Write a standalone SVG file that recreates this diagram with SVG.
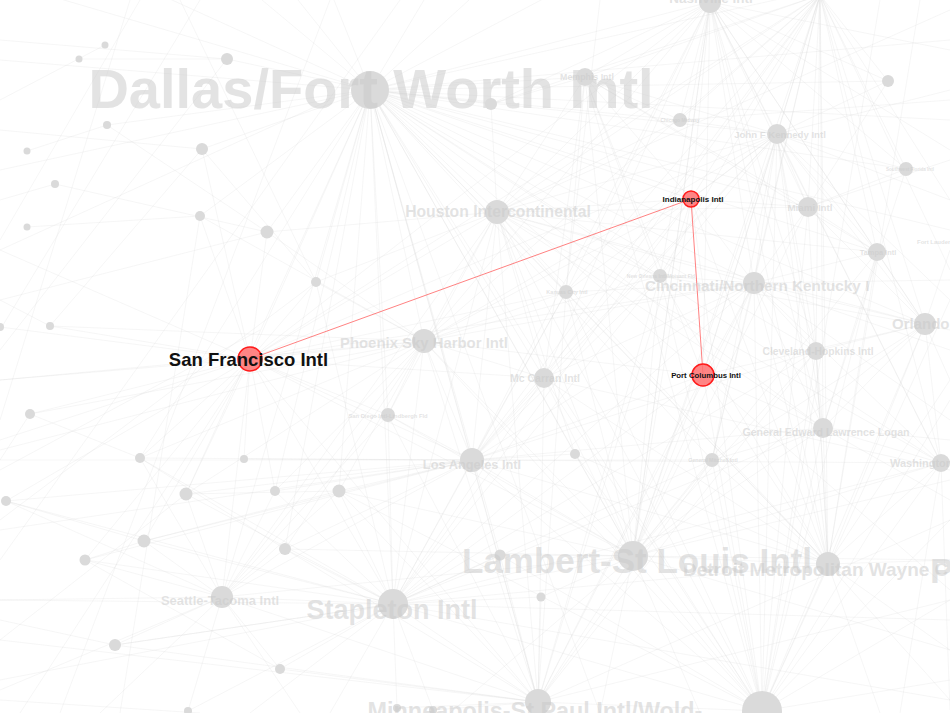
<svg xmlns="http://www.w3.org/2000/svg" width="950" height="713" viewBox="0 0 950 713">
<style>
.e{fill:none;stroke:#d6d6d6;stroke-opacity:.38;stroke-width:.6}
.r{fill:none;stroke:#ff4d4d;stroke-opacity:.7;stroke-width:1}
.n{fill:#dadada}
.l{font-family:"Liberation Sans",Arial,sans-serif;font-weight:bold;fill:#c8c8c8;fill-opacity:.5;text-anchor:middle}
.h{fill:#ff7070;fill-opacity:.85;stroke:#ff1a1a;stroke-width:1.5}
.ht{font-family:"Liberation Sans",Arial,sans-serif;font-weight:bold;fill:#111;text-anchor:middle}
</style>
<rect width="950" height="713" fill="#fff"/>
<g id="connectors">
<path class="e" d="M370 90L227 59M370 90L202 149M370 90L200 216M370 90L267 232M370 90L316 282M370 90L107 125M370 90L491 104M370 90L585 77M370 90L497 212M370 90L424 341M370 90L472 460M370 90L544 378M370 90L388 415M370 90L250 359M370 90L222 597M370 90L393 604M370 90L633 556M370 90L566 292M370 90L660 276M370 90L754 283M370 90L691 199M370 90L777 134M370 90L808 207M370 90L877 252M370 90L925 324M370 90L823 428M370 90L941 463M370 90L816 351M370 90L828 564M370 90L538 702M370 90L703 375M370 90L712 460M370 90L680 120M370 90L710 2M370 90L186 494M370 90L339 491M370 90L285 549M370 90L275 491M370 90L140 458M370 90L575 454M370 90L500 555M370 90L906 169M370 90L888 81M370 90L330 -10M370 90L290 -10M370 90L430 -10M370 90L480 -10M370 90L560 -10M370 90L250 -10M370 90L950 40M370 90L950 120M370 90L950 230M370 90L30 -10M370 90L150 -10M370 90L820 -10M370 90L762 713M370 90L600 713M370 90L0 60M370 90L0 170"/>
<path class="e" d="M393 604L222 597M393 604L250 359M393 604L424 341M393 604L472 460M393 604L544 378M393 604L388 415M393 604L633 556M393 604L538 702M393 604L828 564M393 604L762 711M393 604L339 491M393 604L285 549M393 604L280 669M393 604L397 708M393 604L433 710M393 604L500 555M393 604L541 597M393 604L144 541M393 604L186 494M393 604L115 645M393 604L85 560M393 604L754 283M393 604L691 199M393 604L703 375M393 604L712 460M393 604L497 212M393 604L566 292M393 604L660 276M393 604L816 351M393 604L823 428M393 604L941 463M393 604L316 282M393 604L0 600M393 604L0 680M393 604L250 713M393 604L330 713M393 604L950 620M393 604L950 700M393 604L140 458M393 604L6 501M393 604L275 491M393 604L188 711"/>
<path class="e" d="M633 556L500 555M633 556L541 597M633 556L538 702M633 556L762 711M633 556L828 564M633 556L703 375M633 556L712 460M633 556L575 454M633 556L544 378M633 556L472 460M633 556L566 292M633 556L660 276M633 556L754 283M633 556L691 199M633 556L497 212M633 556L816 351M633 556L823 428M633 556L941 463M633 556L925 324M633 556L877 252M633 556L808 207M633 556L777 134M633 556L710 2M633 556L585 77M633 556L424 341M633 556L388 415M633 556L250 359M633 556L339 491M633 556L285 549M633 556L222 597M633 556L950 560M633 556L950 650M633 556L700 713M633 556L450 713M633 556L600 713M633 556L950 480"/>
<path class="e" d="M762 711L828 564M762 711L712 460M762 711L703 375M762 711L823 428M762 711L941 463M762 711L754 283M762 711L691 199M762 711L816 351M762 711L925 324M762 711L877 252M762 711L808 207M762 711L575 454M762 711L544 378M762 711L472 460M762 711L497 212M762 711L566 292M762 711L660 276M762 711L339 491M762 711L950 600M762 711L950 520M762 711L950 400M762 711L950 680M762 711L880 0M762 711L950 300M762 711L538 702M762 711L500 555M762 711L424 341M762 711L777 134M762 711L585 77"/>
<path class="e" d="M828 564L703 375M828 564L712 460M828 564L823 428M828 564L941 463M828 564L754 283M828 564L691 199M828 564L816 351M828 564L925 324M828 564L877 252M828 564L808 207M828 564L777 134M828 564L566 292M828 564L544 378M828 564L497 212M828 564L472 460M828 564L660 276M828 564L575 454M828 564L950 560M828 564L950 650M828 564L950 700M828 564L880 713M828 564L920 0M828 564L950 380"/>
<path class="e" d="M538 702L500 555M538 702L541 597M538 702L472 460M538 702L424 341M538 702L544 378M538 702L566 292M538 702L660 276M538 702L691 199M538 702L703 375M538 702L712 460M538 702L754 283M538 702L816 351M538 702L250 359M538 702L388 415M538 702L222 597M538 702L339 491M538 702L285 549M538 702L497 212M538 702L397 708M538 702L433 710M538 702L280 669M538 702L115 645M538 702L0 640M538 702L950 520M538 702L950 600"/>
<path class="e" d="M710 2L585 77M710 2L680 120M710 2L777 134M710 2L808 207M710 2L877 252M710 2L925 324M710 2L754 283M710 2L691 199M710 2L660 276M710 2L566 292M710 2L497 212M710 2L816 351M710 2L823 428M710 2L941 463M710 2L491 104M710 2L888 81M710 2L906 169M710 2L703 375M710 2L544 378M710 2L472 460M710 2L424 341M710 2L250 359M710 2L633 556M710 2L828 564M710 2L950 50M710 2L950 150"/>
<path class="e" d="M820 -5L777 134M820 -5L808 207M820 -5L877 252M820 -5L691 199M820 -5L754 283M820 -5L660 276M820 -5L566 292M820 -5L497 212M820 -5L703 375M820 -5L816 351M820 -5L925 324M820 -5L823 428M820 -5L941 463M820 -5L712 460M820 -5L544 378M820 -5L472 460M820 -5L424 341M820 -5L633 556M820 -5L828 564M820 -5L585 77M820 -5L680 120M820 -5L888 81M820 -5L906 169M820 -5L950 200M820 -5L950 270M820 -5L250 359M820 -5L491 104"/>
<path class="e" d="M777 134L585 77M777 134L680 120M777 134L888 81M777 134L906 169M777 134L808 207M777 134L877 252M777 134L925 324M777 134L691 199M777 134L754 283M777 134L660 276M777 134L566 292M777 134L497 212M777 134L816 351M777 134L823 428M777 134L941 463M777 134L703 375M777 134L712 460M777 134L544 378M777 134L472 460M777 134L424 341M777 134L250 359M777 134L950 90M777 134L950 200M777 134L950 300"/>
<path class="e" d="M497 212L585 77M497 212L491 104M497 212L680 120M497 212L566 292M497 212L660 276M497 212L424 341M497 212L544 378M497 212L472 460M497 212L388 415M497 212L250 359M497 212L316 282M497 212L267 232M497 212L808 207M497 212L877 252M497 212L925 324M497 212L754 283M497 212L691 199M497 212L823 428M497 212L941 463M497 212L222 597M497 212L575 454"/>
<path class="e" d="M424 341L316 282M424 341L250 359M424 341L388 415M424 341L472 460M424 341L544 378M424 341L566 292M424 341L222 597M424 341L339 491M424 341L285 549M424 341L267 232M424 341L200 216M424 341L140 458M424 341L186 494M424 341L275 491M424 341L30 414M424 341L50 326M424 341L0 380M424 341L0 450M424 341L691 199M424 341L754 283M424 341L703 375M424 341L660 276"/>
<path class="e" d="M472 460L250 359M472 460L388 415M472 460L544 378M472 460L575 454M472 460L339 491M472 460L285 549M472 460L222 597M472 460L186 494M472 460L144 541M472 460L140 458M472 460L244 459M472 460L275 491M472 460L85 560M472 460L6 501M472 460L0 460M472 460L0 530M472 460L566 292M472 460L660 276M472 460L754 283M472 460L703 375M472 460L712 460M472 460L823 428M472 460L941 463M472 460L816 351M472 460L691 199"/>
<path class="e" d="M250 359L316 282M250 359L267 232M250 359L200 216M250 359L202 149M250 359L388 415M250 359L544 378M250 359L222 597M250 359L140 458M250 359L186 494M250 359L50 326M250 359L30 414M250 359L0 327M250 359L0 380M250 359L6 501M250 359L85 560M250 359L144 541M250 359L275 491M250 359L244 459M250 359L566 292M250 359L754 283M250 359L0 250M250 359L0 440"/>
<path class="e" d="M222 597L85 560M222 597L144 541M222 597L115 645M222 597L186 494M222 597L285 549M222 597L275 491M222 597L339 491M222 597L280 669M222 597L188 711M222 597L6 501M222 597L0 600M222 597L0 690M222 597L388 415M222 597L140 458M222 597L100 713M222 597L300 713"/>
<path class="e" d="M754 283L691 199M754 283L660 276M754 283L566 292M754 283L703 375M754 283L816 351M754 283L925 324M754 283L877 252M754 283L808 207M754 283L823 428M754 283L941 463M754 283L712 460M754 283L544 378M754 283L950 280M754 283L950 350M754 283L950 420"/>
<path class="e" d="M585 77L491 104M585 77L680 120M585 77L691 199M585 77L566 292M585 77L660 276M585 77L808 207M585 77L877 252M585 77L544 378M585 77L703 375M925 324L877 252M925 324L808 207M925 324L816 351M925 324L823 428M925 324L941 463M925 324L703 375M925 324L712 460M925 324L950 250M925 324L950 380M823 428L816 351M823 428L941 463M823 428L703 375M823 428L712 460M823 428L877 252M823 428L906 169M823 428L950 440M823 428L950 500M808 207L888 81M808 207L906 169M808 207L877 252M808 207L691 199M808 207L950 160"/>
<path class="e" d="M50 326L0 300M50 326L202 149M27 151L107 125M27 227L200 216M79 59L227 59M105 45L0 100M55 184L0 200M30 414L140 458M30 414L0 460M6 501L144 541M85 560L144 541M115 645L0 620M0 250L330 100M0 470L260 330M140 0L0 240M200 0L0 330M60 713L330 0M0 560L400 0M0 520L316 282M0 130L202 149M0 40L227 59M0 300L267 232M20 713L250 359M120 713L200 216M180 0L316 282M0 700L200 713M0 420L130 0M0 350L227 59M55 184L267 232M107 125L267 232M202 149L316 282M0 640L186 494M140 458L285 549M186 494L339 491M144 541L339 491M115 645L393 604M85 560L280 669M950 100L680 120M950 330L660 276M950 590L703 375M950 10L497 212M600 0L566 292M950 710L941 463M900 713L941 463M950 470L544 378"/>
<path class="r" d="M250 359L691 199M691 199L703 375"/>
</g>
<g id="dfw"><circle class="n" cx="370" cy="90" r="19"/><text class="l" x="371" y="108" font-size="56">Dallas/Fort Worth Intl</text></g>
<g id="g1"><circle class="n" cx="105" cy="45" r="3.5"/></g>
<g id="g2"><circle class="n" cx="79" cy="59" r="3.5"/></g>
<g id="g3"><circle class="n" cx="227" cy="59" r="6"/></g>
<g id="g4"><circle class="n" cx="107" cy="125" r="4"/></g>
<g id="g5"><circle class="n" cx="202" cy="149" r="6"/></g>
<g id="g6"><circle class="n" cx="27" cy="151" r="3.5"/></g>
<g id="g7"><circle class="n" cx="55" cy="184" r="4"/></g>
<g id="g8"><circle class="n" cx="27" cy="227" r="3.5"/></g>
<g id="g9"><circle class="n" cx="200" cy="216" r="5"/></g>
<g id="g10"><circle class="n" cx="267" cy="232" r="6.5"/></g>
<g id="g11"><circle class="n" cx="491" cy="104" r="6"/></g>
<g id="g12"><circle class="n" cx="888" cy="81" r="6"/></g>
<g id="g13"><circle class="n" cx="316" cy="282" r="5"/></g>
<g id="g14"><circle class="n" cx="50" cy="326" r="4"/></g>
<g id="g15"><circle class="n" cx="0" cy="327" r="4"/></g>
<g id="g16"><circle class="n" cx="30" cy="414" r="5"/></g>
<g id="g17"><circle class="n" cx="140" cy="458" r="5"/></g>
<g id="g18"><circle class="n" cx="244" cy="459" r="4"/></g>
<g id="g19"><circle class="n" cx="575" cy="454" r="5"/></g>
<g id="g20"><circle class="n" cx="186" cy="494" r="6.5"/></g>
<g id="g21"><circle class="n" cx="275" cy="491" r="5"/></g>
<g id="g22"><circle class="n" cx="339" cy="491" r="6.5"/></g>
<g id="g23"><circle class="n" cx="6" cy="501" r="5"/></g>
<g id="g24"><circle class="n" cx="144" cy="541" r="6.5"/></g>
<g id="g25"><circle class="n" cx="85" cy="560" r="5.5"/></g>
<g id="g26"><circle class="n" cx="285" cy="549" r="6"/></g>
<g id="g27"><circle class="n" cx="115" cy="645" r="6"/></g>
<g id="g28"><circle class="n" cx="280" cy="669" r="5"/></g>
<g id="g29"><circle class="n" cx="188" cy="711" r="4"/></g>
<g id="g30"><circle class="n" cx="397" cy="708" r="4"/></g>
<g id="g31"><circle class="n" cx="433" cy="710" r="4"/></g>
<g id="g32"><circle class="n" cx="500" cy="555" r="5.5"/></g>
<g id="g33"><circle class="n" cx="541" cy="597" r="4.5"/></g>
<g id="g34"><circle class="n" cx="762" cy="711" r="20"/></g>
<g id="mem"><circle class="n" cx="585" cy="77" r="9"/><text class="l" x="587" y="80" font-size="8.8">Memphis Intl</text></g>
<g id="bna"><circle class="n" cx="710" cy="2" r="11"/><text class="l" x="711" y="3" font-size="13.5">Nashville Intl</text></g>
<g id="mdw"><circle class="n" cx="680" cy="120" r="7"/><text class="l" x="680" y="122" font-size="5">Chicago Midway</text></g>
<g id="jfk"><circle class="n" cx="777" cy="134" r="10"/><text class="l" x="780" y="138" font-size="9.6">John F Kennedy Intl</text></g>
<g id="rsw"><circle class="n" cx="906" cy="169" r="7"/><text class="l" x="910" y="171" font-size="4.6">Southwest Florida Intl</text></g>
<g id="mia"><circle class="n" cx="808" cy="207" r="10"/><text class="l" x="810" y="211" font-size="9.8">Miami Intl</text></g>
<g id="tpa"><circle class="n" cx="877" cy="252" r="9"/><text class="l" x="878" y="255" font-size="7.4">Tampa Intl</text></g>
<g id="fll"><text class="l" x="917" y="244" font-size="6" style="text-anchor:start">Fort Lauderdale</text></g>
<g id="iah"><circle class="n" cx="497" cy="212" r="12"/><text class="l" x="498" y="217" font-size="15.7">Houston Intercontinental</text></g>
<g id="msy"><circle class="n" cx="660" cy="276" r="7"/><text class="l" x="661" y="278" font-size="5">New Orleans Intl/Moisant Fld</text></g>
<g id="mci"><circle class="n" cx="566" cy="292" r="7"/><text class="l" x="567" y="294" font-size="5.5">Kansas City Intl</text></g>
<g id="cvg"><circle class="n" cx="754" cy="283" r="11"/><text class="l" x="645" y="291" font-size="15.3" style="text-anchor:start">Cincinnati/Northern Kentucky I</text></g>
<g id="mco"><circle class="n" cx="925" cy="324" r="11"/><text class="l" x="892" y="329" font-size="15" style="text-anchor:start">Orlando I</text></g>
<g id="phx"><circle class="n" cx="424" cy="341" r="12"/><text class="l" x="424" y="348" font-size="14.9">Phoenix Sky Harbor Intl</text></g>
<g id="las"><circle class="n" cx="544" cy="378" r="10"/><text class="l" x="545" y="382" font-size="10.5">Mc Carran Intl</text></g>
<g id="cle"><circle class="n" cx="816" cy="351" r="9"/><text class="l" x="818" y="355" font-size="10.3">Cleveland-Hopkins Intl</text></g>
<g id="san"><circle class="n" cx="388" cy="415" r="7"/><text class="l" x="388" y="418" font-size="5.8">San Diego Intl-Lindbergh Fld</text></g>
<g id="bos"><circle class="n" cx="823" cy="428" r="10"/><text class="l" x="826" y="436" font-size="10.6">General Edward Lawrence Logan</text></g>
<g id="lax"><circle class="n" cx="472" cy="460" r="12"/><text class="l" x="472" y="469" font-size="12.8">Los Angeles Intl</text></g>
<g id="mke"><circle class="n" cx="712" cy="460" r="7"/><text class="l" x="713" y="462" font-size="5.2">General Mitchell Intl</text></g>
<g id="dca"><circle class="n" cx="941" cy="463" r="9"/><text class="l" x="890" y="467" font-size="11" style="text-anchor:start">Washington</text></g>
<g id="sea"><circle class="n" cx="222" cy="597" r="11"/><text class="l" x="220" y="605" font-size="13">Seattle-Tacoma Intl</text></g>
<g id="den"><circle class="n" cx="393" cy="604" r="15"/><text class="l" x="392" y="619" font-size="27">Stapleton Intl</text></g>
<g id="stl"><circle class="n" cx="633" cy="556" r="15"/><text class="l" x="637" y="573" font-size="35">Lambert-St Louis Intl</text></g>
<g id="dtw"><circle class="n" cx="828" cy="564" r="12"/><text class="l" x="683" y="576" font-size="19" style="text-anchor:start">Detroit Metropolitan Wayne C</text></g>
<g id="pit"><text class="l" x="930" y="583" font-size="35" style="text-anchor:start">P</text></g>
<g id="msp"><circle class="n" cx="538" cy="702" r="13"/><text class="l" x="535" y="719" font-size="23.4">Minneapolis-St Paul Intl/Wold-</text></g>
<g id="ind"><circle class="h" cx="691" cy="199" r="8"/><text class="ht" x="693" y="202" font-size="8">Indianapolis Intl</text></g>
<g id="cmh"><circle class="h" cx="703" cy="375" r="11"/><text class="ht" x="706" y="378" font-size="7.8">Port Columbus Intl</text></g>
<g id="sfo"><circle class="h" cx="250" cy="359" r="12"/><text class="ht" x="248.5" y="366" font-size="18.5">San Francisco Intl</text></g>
</svg>
